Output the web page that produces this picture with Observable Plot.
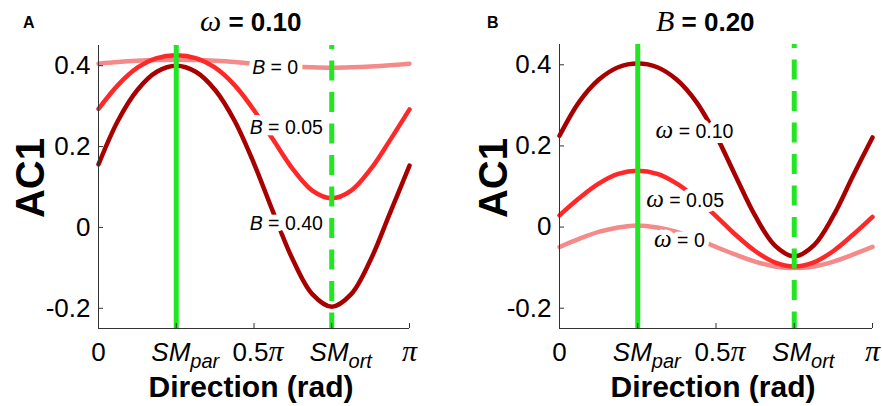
<!DOCTYPE html>
<html><head><meta charset="utf-8">
<script src="https://cdn.jsdelivr.net/npm/d3@7"></script>
<script src="https://cdn.jsdelivr.net/npm/@observablehq/plot@0.6"></script>
<style>
body{margin:0;background:#fff;}
#wrap{display:flex;width:882px;height:406px;overflow:hidden;}
</style></head><body><div id="wrap"></div>
<script>
const PI = Math.PI;
// x sample positions, in units of pi
const directionsPi = [0,0.0625,0.125,0.1875,0.25,0.3125,0.375,0.4375,0.5,0.5625,0.625,0.6875,0.75,0.8125,0.875,0.9375,1];

// Panel A (omega = 0.10)
const acA_B0   = [0.405,0.409,0.412,0.414,0.415,0.414,0.412,0.409,0.405,0.401,0.398,0.396,0.395,0.396,0.398,0.401,0.405];
const acA_B005 = [0.293,0.352,0.395,0.419,0.426,0.419,0.395,0.352,0.290,0.216,0.144,0.091,0.072,0.091,0.144,0.216,0.292];
const acA_B040 = [0.156,0.264,0.340,0.385,0.400,0.385,0.340,0.264,0.158,0.036,-0.080,-0.165,-0.196,-0.165,-0.080,0.036,0.153];
const labelsA  = ["B = 0","B = 0.05","B = 0.40"];
const labelXA  = [0.494,0.486,0.486];
const labelYA  = [0.396,0.247,0.010];

// Panel B (B = 0.20)
const acB_w0   = [-0.049,-0.029,-0.012,-0.001,0.004,-0.001,-0.012,-0.029,-0.049,-0.068,-0.085,-0.097,-0.101,-0.097,-0.085,-0.068,-0.049];
const acB_w005 = [0.029,0.071,0.107,0.131,0.139,0.131,0.107,0.071,0.027,-0.019,-0.059,-0.087,-0.097,-0.087,-0.059,-0.019,0.025];
const acB_w010 = [0.225,0.308,0.363,0.394,0.403,0.394,0.363,0.308,0.226,0.126,0.028,-0.045,-0.072,-0.045,0.028,0.126,0.221];
const labelsB  = ["ω = 0.10","ω = 0.05","ω = 0"];
const labelXB  = [0.307,0.277,0.302];
const labelYB  = [0.236,0.066,-0.033];

const panelLetters = ["A","B"];
const titleSymbols = ["ω","B"];
const titleValues  = ["0.10","0.20"];

const xTicksPi    = [0,0.25,0.5,0.75,1];
const xTickLabels = ["0","SM_par","0.5π","SM_ort","π"];
const yTicks      = [-0.2,0,0.2,0.4];
const yTickLabels = ["-0.2","0","0.2","0.4"];
const smParPi = 0.25, smOrtPi = 0.75;
const yDomain = [-0.25,0.45];

const colLight = "#f48a8a", colMid = "#ff2828", colDark = "#a80000", green = "#22e622", axisColor = "#333";

const panels = [
  {series:[acA_B0,acA_B005,acA_B040], labels:labelsA, labelX:labelXA, labelY:labelYA,
   marginLeft:98, marginRight:32, marginTop:45, titleX:200, letterX:23, yLabelX:44, xLabelX:251},
  {series:[acB_w0,acB_w005,acB_w010], labels:labelsB, labelX:labelXB, labelY:labelYB,
   marginLeft:118, marginRight:10, marginTop:44, titleX:215, letterX:46, yLabelX:66, xLabelX:272}
];
const colors = [colLight, colMid, colDark];
const xTicks = xTicksPi.map(v => v*PI);

panels.forEach((cfg, pi) => {
  const marks = [];
  cfg.series.forEach((vals, i) => {
    marks.push(Plot.line(vals.map((v,k) => ({x: directionsPi[k]*PI, y: v})),
      {x:"x", y:"y", stroke: colors[i], strokeWidth: 4.5, curve:"catmull-rom"}));
  });
  marks.push(Plot.text(cfg.labels.map((t,i) => ({t, x: cfg.labelX[i]*PI, y: cfg.labelY[i]})),
    {x:"x", y:"y", text:"t", textAnchor:"start", fontSize:19.5, fill:"black", stroke:"white", strokeWidth:10}));
  marks.push(Plot.ruleX([smParPi*PI], {stroke: green, strokeWidth: 5}));
  marks.push(Plot.ruleX([smOrtPi*PI], {stroke: green, strokeWidth: 5, strokeDasharray:"20,11.5", strokeDashoffset:16}));
  marks.push(Plot.ruleX([0], {stroke: axisColor, strokeWidth: 1}));
  marks.push(Plot.ruleY([yDomain[0]], {stroke: axisColor, strokeWidth: 1}));
  marks.push(Plot.axisX(xTicks, {tickSize:-5, tickPadding:19, fontSize:26, stroke: axisColor, fill:"black", label:null,
    tickFormat: d => xTickLabels[xTicks.indexOf(d)]}));
  marks.push(Plot.axisY(yTicks, {tickSize:-5, tickPadding:13, fontSize:26, stroke: axisColor, fill:"black", label:null,
    tickFormat: d => yTickLabels[yTicks.indexOf(d)]}));

  const svg = Plot.plot({
    width: 441, height: 406,
    marginLeft: cfg.marginLeft, marginRight: cfg.marginRight, marginTop: cfg.marginTop, marginBottom: 78,
    x: {domain:[0,PI]},
    y: {domain: yDomain},
    style: {fontFamily:"'Liberation Sans', Arial, sans-serif", background:"white", color:"black", overflow:"visible"},
    marks
  });
  const s = d3.select(svg);

  // x tick labels with italics / subscripts
  s.selectAll('g[aria-label="x-axis tick label"] text').each(function(){
    const t = this.textContent; const sel = d3.select(this);
    if (t.startsWith("SM_")) {
      sel.text(null).attr("dx", 9);
      sel.append("tspan").attr("font-style","italic").text("SM");
      sel.append("tspan").attr("font-style","italic").attr("font-size",20).attr("dy","0.35em").text(t.slice(3));
    } else if (t.includes("π")) {
      const pre = t.replace("π","");
      sel.text(null);
      if (pre) { sel.append("tspan").text(pre); sel.attr("dx", 4); }
      sel.append("tspan").attr("font-family","'Liberation Serif', serif").attr("font-style","italic").attr("font-size",30).text("π");
    }
  });
  // curve labels: italic symbol
  s.selectAll('text').each(function(){
    const t = this.textContent;
    if (!cfg.labels.includes(t)) return;
    const sel = d3.select(this);
    const sym = t[0], rest = t.slice(1);
    sel.text(null);
    const ts = sel.append("tspan").attr("font-style","italic").text(sym);
    if (sym === "ω") ts.attr("font-family","'Liberation Serif', serif").attr("font-size",25);
    sel.append("tspan").text(rest);
  });

  // panel letter
  s.append("text").attr("x", cfg.letterX).attr("y", 28).attr("text-anchor","start").attr("font-size",16).attr("font-weight","bold").attr("fill","black").text(panelLetters[pi]);
  // title
  const title = s.append("text").attr("x", cfg.titleX).attr("y", 31).attr("text-anchor","start").attr("font-size",26).attr("font-weight","bold").attr("fill","black");
  title.append("tspan").attr("font-family","'Liberation Serif', serif").attr("font-style","italic").attr("font-weight","normal").attr("font-size",30).text(titleSymbols[pi]);
  title.append("tspan").text(" = " + titleValues[pi]);
  // y label
  s.append("text").attr("transform", `translate(${cfg.yLabelX},178) rotate(-90)`).attr("text-anchor","middle")
    .attr("font-size",40).attr("font-weight","bold").attr("fill","black").text("AC1");
  // x label
  s.append("text").attr("x", cfg.xLabelX).attr("y", 397).attr("text-anchor","middle")
    .attr("font-size",30).attr("font-weight","bold").attr("fill","black").text("Direction (rad)");

  document.getElementById("wrap").appendChild(svg);
});
</script></body></html>
